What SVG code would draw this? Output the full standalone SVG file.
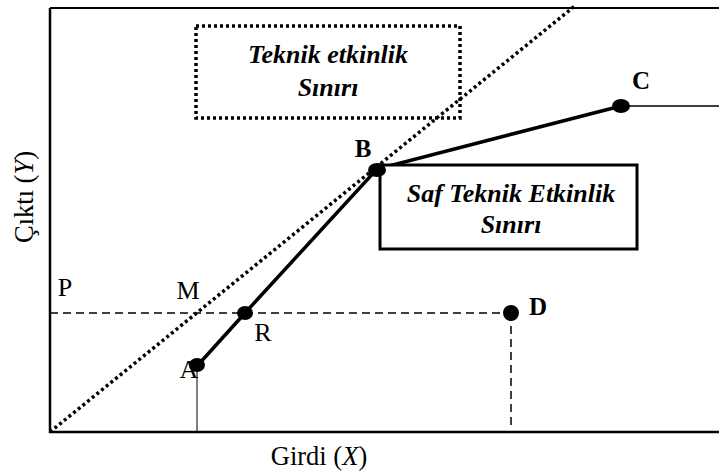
<svg xmlns="http://www.w3.org/2000/svg" width="719" height="475" viewBox="0 0 719 475" font-family="Liberation Serif, Times New Roman, serif">
<style>
.lbl{font-size:26px}
.bl{font-size:25px;font-weight:bold}
.bi{font-size:26px;font-weight:bold;font-style:italic}
.ax{font-size:26.5px}
</style>
<rect width="719" height="475" fill="#fff"/>
<g id="connectors" fill="none" stroke="#000">
<polyline points="50,8 719,8" stroke-width="2"/>
<polyline points="50,8 50,432 719,432" stroke-width="2.5"/>
<line x1="50" y1="432" x2="576" y2="5" stroke-width="3.5" stroke-dasharray="3,3"/>
<polyline points="198,365 245,313 377,169 621,106" stroke-width="3.5"/>
<line x1="621" y1="106" x2="719" y2="106" stroke-width="1.5"/>
<line x1="50" y1="313" x2="511" y2="313" stroke-width="1.5" stroke-dasharray="8,5"/>
<line x1="511" y1="313" x2="511" y2="430" stroke-width="1.5" stroke-dasharray="8,5"/>
<line x1="197" y1="365" x2="197" y2="432" stroke-width="1"/>
</g>
<g id="teknik-box">
<rect x="196" y="26" width="264" height="92" fill="none" stroke="#000" stroke-width="3.5" stroke-dasharray="3,3"/>
<text class="bi" x="328" y="63" text-anchor="middle">Teknik etkinlik</text>
<text class="bi" x="328" y="96" text-anchor="middle">Sınırı</text>
</g>
<g id="saf-box">
<rect x="380" y="165" width="257" height="84" fill="#fff" stroke="#000" stroke-width="3"/>
<text class="bi" x="511" y="202" text-anchor="middle">Saf Teknik Etkinlik</text>
<text class="bi" x="511" y="233" text-anchor="middle">Sınırı</text>
</g>
<g id="A"><ellipse cx="197" cy="365" rx="8" ry="7"/><text class="lbl" x="189" y="378" text-anchor="middle">A</text></g>
<g id="R"><ellipse cx="245" cy="313" rx="8" ry="7"/><text class="lbl" x="263" y="341" text-anchor="middle">R</text></g>
<g id="B"><ellipse cx="377" cy="170" rx="9" ry="7"/><text class="bl" x="363" y="157" text-anchor="middle">B</text></g>
<g id="C"><ellipse cx="621" cy="106" rx="9" ry="7"/><text class="bl" x="641" y="89" text-anchor="middle">C</text></g>
<g id="D"><ellipse cx="511" cy="313" rx="8" ry="8"/><text class="bl" x="538" y="315" text-anchor="middle">D</text></g>
<g id="P"><text class="lbl" x="65" y="296" text-anchor="middle">P</text></g>
<g id="M"><text class="lbl" x="188" y="299" text-anchor="middle">M</text></g>
<g id="x-label"><text class="ax" x="319" y="465" text-anchor="middle">Girdi (<tspan font-style="italic">X</tspan>)</text></g>
<g id="y-label"><text class="ax" transform="translate(33,197) rotate(-90)" text-anchor="middle">Çıktı (<tspan font-style="italic">Y</tspan>)</text></g>
</svg>
